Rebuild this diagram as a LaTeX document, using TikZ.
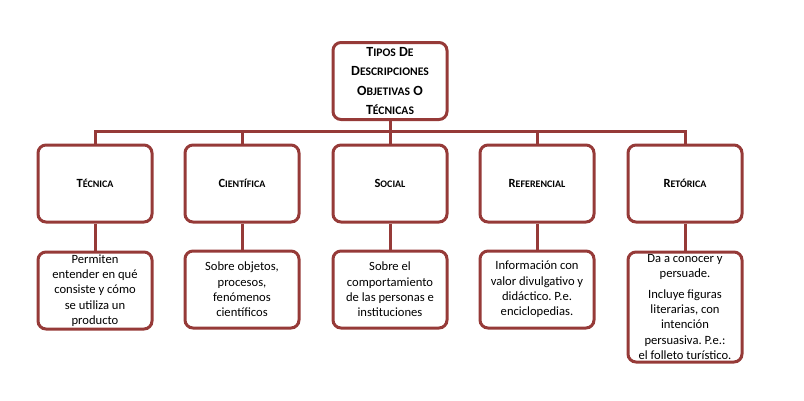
\documentclass[tikz,border=0pt]{standalone}
\usepackage{fontspec}
\setmainfont{Carlito}
\definecolor{granate}{RGB}{150,58,56}
\newcommand\ttsc[2]{#1{\fontsize{11.6}{19.5}\selectfont#2}}
\newcommand\hdsc[2]{#1{\fontsize{10}{14}\selectfont#2}}

\begin{document}
\begin{tikzpicture}[x=1pt,y=-1pt,
        caja/.style={draw=granate, line width=3pt, rounded corners=8pt, fill=white,
                     minimum width=114pt, minimum height=77pt, inner sep=0pt, align=center},
        titulo/.style={caja, font=\bfseries\fontsize{14}{19.5}\selectfont},
        tipo/.style={caja, font=\bfseries\fontsize{12.5}{14}\selectfont},
        info/.style={caja, font=\frenchspacing\fontsize{12.6}{15.3}\selectfont},
        link/.style={draw=granate, line width=3pt}]
    \useasboundingbox (0,0) rectangle (804,400);
    \node [titulo] (title) at (390,81) {\ttsc{T}{IPOS} \ttsc{D}{E}\\\ttsc{D}{ESCRIPCIONES}\\\ttsc{O}{BJETIVAS} O\\\ttsc{T}{ÉCNICAS}};
    \node [tipo] (tec) at (95,183.5) {\hdsc{T}{ÉCNICA}};
    \node [tipo] (cie) at (242,183.5) {\hdsc{C}{IENTÍFICA}};
    \node [tipo] (soc) at (390,183.5) {\hdsc{S}{OCIAL}};
    \node [tipo] (ref) at (537,183.5) {\hdsc{R}{EFERENCIAL}};
    \node [tipo] (ret) at (685,183.5) {\hdsc{R}{ETÓRICA}};
    \node [info] (tecinfo) at (95,290.5) {Permiten\\entender en qué\\consiste y cómo\\se utiliza un\\producto};
    \node [info] (cieinfo) at (242,289.5) {Sobre objetos,\\procesos,\\fenómenos\\científicos};
    \node [info] (socinfo) at (390,289.5) {Sobre el\\comportamiento\\de las personas e\\instituciones};
    \node [info] (refinfo) at (537,289.5) {Información con\\valor divulgativo y\\didáctico. P.e.\\enciclopedias.};
    \node [info, minimum height=110pt] (retinfo) at (685,307) {Da a conocer y\\persuade.\\[5pt]Incluye figuras\\literarias, con\\intención\\persuasiva. P.e.:\\el folleto turístico.};
    \coordinate (bus) at (390,131);
    \foreach \n in {tec,cie,soc,ref,ret}
        \draw [link] (title.south) -- (bus) -| (\n.north);
    \foreach \n in {tec,cie,soc,ref,ret}
        \draw [link] (\n.south) -- (\n info.north);
\end{tikzpicture}
\end{document}
